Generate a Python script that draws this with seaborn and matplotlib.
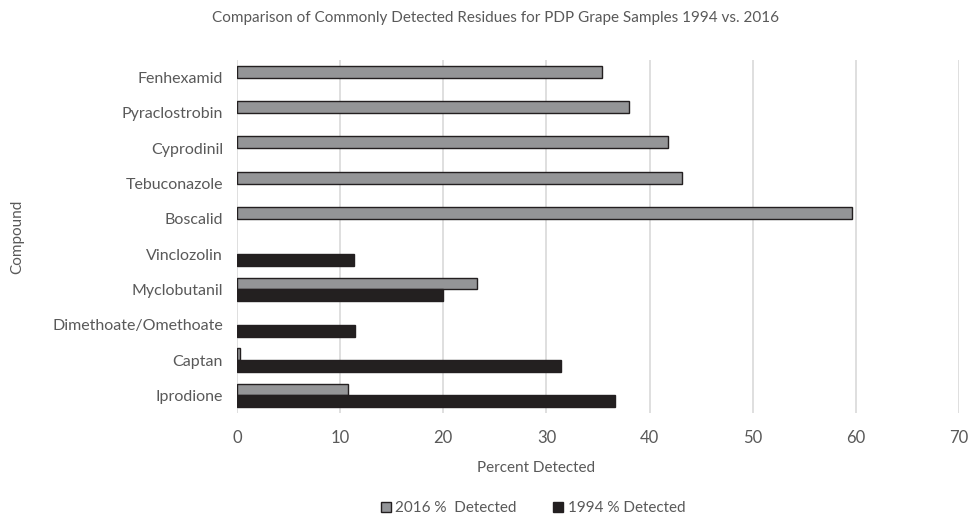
import numpy as np
import pandas as pd
import matplotlib
matplotlib.use("Agg")
import matplotlib.pyplot as plt
import seaborn as sns
from matplotlib.patches import Patch

compounds = ["Fenhexamid", "Pyraclostrobin", "Cyprodinil", "Tebuconazole", "Boscalid",
             "Vinclozolin", "Myclobutanil", "Dimethoate/Omethoate", "Captan", "Iprodione"]
pct_2016 = [35.4, 38.0, 41.8, 43.1, 59.6, np.nan, 23.3, np.nan, 0.3, 10.8]
pct_1994 = [np.nan, np.nan, np.nan, np.nan, np.nan, 11.35, 20.0, 11.45, 31.4, 36.6]
series = ["2016 %  Detected", "1994 % Detected"]
colors = ["#939598", "#231f20"]
xticks = [0, 10, 20, 30, 40, 50, 60, 70]

df = pd.DataFrame({
    "Compound": compounds * 2,
    "Percent": pct_2016 + pct_1994,
    "Series": [series[0]] * len(compounds) + [series[1]] * len(compounds),
})

sns.set_style("white")
plt.rcParams["font.family"] = ["Lato", "DejaVu Sans"]
txt = "#595959"

fig = plt.figure(figsize=(9.68, 5.15), dpi=100)
ax = fig.add_axes([237 / 968, 1 - 413 / 515, (959 - 237) / 968, (413 - 60) / 515])

sns.barplot(data=df, y="Compound", x="Percent", hue="Series", hue_order=series,
            order=compounds, palette=colors, orient="h", width=0.67,
            edgecolor="#231f20", linewidth=1.0, ax=ax, legend=False)

ax.set_xlim(0, 70)
ax.set_xticks(xticks)
ax.set_xticklabels([str(t) for t in xticks], fontsize=12, color=txt)
ax.tick_params(axis="y", labelsize=11.5, labelcolor=txt, length=0, pad=10)
ax.tick_params(axis="x", length=0, pad=12)
ax.xaxis.grid(True, color="#d9d9d9", linewidth=1.2)
ax.set_axisbelow(True)
for s in ax.spines.values():
    s.set_visible(False)

ax.set_xlabel("Percent Detected", fontsize=11, color=txt)
ax.xaxis.set_label_coords((536 - 237) / 722, -(461 - 413) / 353)
ax.set_ylabel("Compound", fontsize=11, color=txt)
ax.yaxis.set_label_coords((24 - 237) / 722, 0.5)

fig.text(496 / 968, 1 - 18 / 515, "Comparison of Commonly Detected Residues for PDP Grape Samples 1994 vs. 2016",
         ha="center", va="center", fontsize=11, color=txt)

handles = [Patch(facecolor=colors[0], edgecolor="#231f20", linewidth=1.0),
           Patch(facecolor=colors[1], edgecolor="#231f20", linewidth=1.0)]
fig.legend(handles, series, loc="center", bbox_to_anchor=(533 / 968, 1 - 508 / 515),
           ncol=2, frameon=False, fontsize=11, labelcolor=txt, handlelength=0.65,
           handleheight=0.65, handletextpad=0.3, columnspacing=2.4)

fig.savefig("out.png", dpi=100)
